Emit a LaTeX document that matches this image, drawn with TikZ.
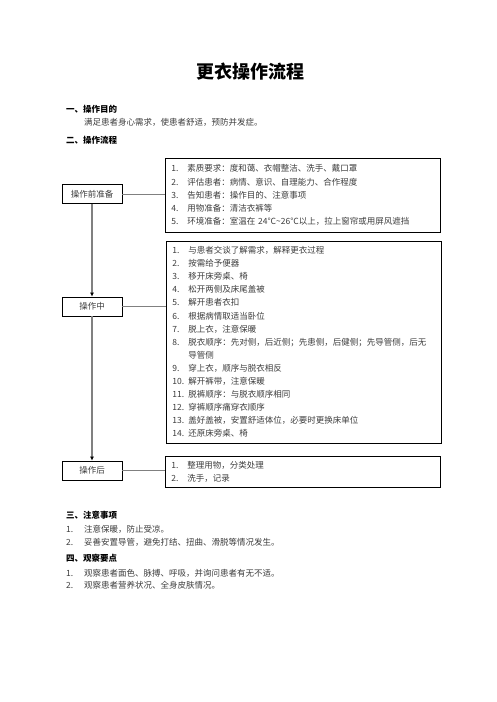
\documentclass[tikz,border=0pt]{standalone}
\usepackage{fontspec}
\setmainfont{Noto Sans CJK SC}
\usetikzlibrary{arrows.meta}
\usetikzlibrary{positioning}
\definecolor{ln}{RGB}{128, 128, 128}
\definecolor{tx}{RGB}{60, 60, 60}
\newcommand{\itm}[2]{\makebox[16pt][l]{#1}#2}
\newcommand{\nitm}[2]{\makebox[18pt][l]{#1}#2}

\begin{document}
\begin{tikzpicture}[x=1pt, y=1pt,
  every node/.style={inner sep=0pt},
  stage/.style={draw=black, line width=0.8pt, minimum width=60pt, minimum height=19pt, font=\fontsize{8.5}{10}\selectfont, text=tx},
  steps/.style={draw=black, line width=0.8pt, anchor=west, align=left, text width=263pt, inner xsep=6pt, font=\fontsize{8.5}{13.1}\selectfont, text=tx},
  flow/.style={draw=ln, line width=1.4pt, -{Latex[length=4pt, width=4pt, color=black]}},
  link/.style={draw=ln, line width=0.9pt},
  head/.style={anchor=west, font=\bfseries\fontsize{8.5}{10}\selectfont},
  body/.style={anchor=west, font=\fontsize{8.5}{10}\selectfont, text=tx}]
\useasboundingbox (0,0) rectangle (496,-702);

% title and opening sections
\node (title) [font=\bfseries\fontsize{18}{20}\selectfont] at (250.5, -72) {更衣操作流程};
\node (aim) [head] at (66, -109) {一、操作目的};
\node (aimtext) [body] at (84, -122) {满足患者身心需求，使患者舒适，预防并发症。};
\node (proc) [head] at (66, -140) {二、操作流程};

% stages on the left
\node (pre) [stage] at (92, -194) {操作前准备};
\node (mid) [stage] at (92, -306.5) {操作中};
\node (post) [stage] at (92, -470.5) {操作后};

% step lists on the right
\node (prelist) [steps, minimum height=74pt] at (165, -195) {%
\itm{1.}{素质要求：度和蔼、衣帽整洁、洗手、戴口罩}\\
\itm{2.}{评估患者：病情、意识、自理能力、合作程度}\\
\itm{3.}{告知患者：操作目的、注意事项}\\
\itm{4.}{用物准备：清洁衣裤等}\\
\itm{5.}{环境准备：室温在 24℃\textasciitilde26℃以上，拉上窗帘或用屏风遮挡}};
\node (midlist) [steps, minimum height=202pt] at (166, -342) {%
\itm{1.}{与患者交谈了解需求，解释更衣过程}\\
\itm{2.}{按需给予便器}\\
\itm{3.}{移开床旁桌、椅}\\
\itm{4.}{松开两侧及床尾盖被}\\
\itm{5.}{解开患者衣扣}\\
\itm{6.}{根据病情取适当卧位}\\
\itm{7.}{脱上衣，注意保暖}\\
\itm{8.}{脱衣顺序：先对侧，后近侧；先患侧，后健侧；先导管侧，后无}\\
\hspace*{16pt}导管侧\\
\itm{9.}{穿上衣，顺序与脱衣相反}\\
\itm{10.}{解开裤带，注意保暖}\\
\itm{11.}{脱裤顺序：与脱衣顺序相同}\\
\itm{12.}{穿裤顺序痛穿衣顺序}\\
\itm{13.}{盖好盖被，安置舒适体位，必要时更换床单位}\\
\itm{14.}{还原床旁桌、椅}};
\node (postlist) [steps, minimum height=31pt] at (165, -471.5) {%
\itm{1.}{整理用物，分类处理}\\
\itm{2.}{洗手，记录}};

% connectors
\draw [flow] (pre) -- (mid);
\draw [flow] (mid) -- (post);
\draw [link] (pre.east) -- (pre.east -| prelist.west);
\draw [link] (mid.east) -- (mid.east -| midlist.west);
\draw [link] (post.east) -- (post.east -| postlist.west);

% closing sections
\node (note) [head] at (66, -515) {三、注意事项};
\node (note1) [body] at (66, -529) {\nitm{1.}{注意保暖，防止受凉。}};
\node (note2) [body] at (66, -542) {\nitm{2.}{妥善安置导管，避免打结、扭曲、滑脱等情况发生。}};
\node (watch) [head] at (66, -558) {四、观察要点};
\node (watch1) [body] at (66, -573) {\nitm{1.}{观察患者面色、脉搏、呼吸，并询问患者有无不适。}};
\node (watch2) [body] at (66, -585) {\nitm{2.}{观察患者营养状况、全身皮肤情况。}};
\end{tikzpicture}
\end{document}
